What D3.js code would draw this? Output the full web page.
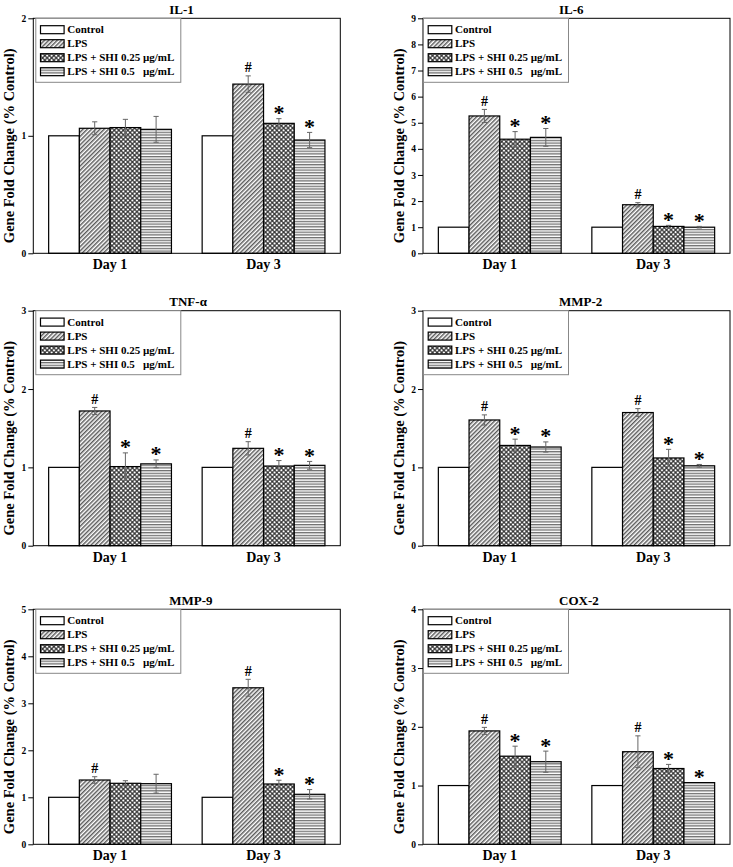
<!DOCTYPE html>
<html>
<head>
<meta charset="utf-8">
<script src="https://cdn.jsdelivr.net/npm/d3@7"></script>
<style>
  html, body { margin: 0; padding: 0; background: #fff; }
  svg { display: block; }
  text { font-family: "Liberation Serif", "Times New Roman", serif; font-weight: bold; fill: #000; }
</style>
</head>
<body>
<svg id="chart" width="733" height="867"></svg>
<script>
// ---------------- DATA ----------------
const categories = ["Day 1", "Day 3"];
const seriesNames = ["Control", "LPS", "LPS + SHI 0.25 µg/mL", "LPS + SHI 0.5   µg/mL"];
const panelTitles = ["IL-1", "IL-6", "TNF-α", "MMP-2", "MMP-9", "COX-2"];
const yMaxes = [2, 9, 3, 3, 5, 4];
const yAxisLabel = "Gene Fold Change (% Control)";

const il1Values = [[1.00, 1.064, 1.07, 1.055], [1.00, 1.44, 1.106, 0.964]];
const il1Errors = [[0, 0.055, 0.07, 0.11], [0, 0.07, 0.04, 0.065]];
const il1Marks  = [["", "", "", ""], ["", "#", "*", "*"]];

const il6Values = [[1.00, 5.26, 4.37, 4.44], [1.00, 1.86, 1.03, 1.00]];
const il6Errors = [[0, 0.25, 0.29, 0.34], [0, 0.08, 0.04, 0.03]];
const il6Marks  = [["", "#", "*", "*"], ["", "#", "*", "*"]];

const tnfValues = [[1.00, 1.72, 1.01, 1.045], [1.00, 1.243, 1.017, 1.026]];
const tnfErrors = [[0, 0.045, 0.175, 0.05], [0, 0.085, 0.07, 0.05]];
const tnfMarks  = [["", "#", "*", "*"], ["", "#", "*", "*"]];

const mmp2Values = [[1.00, 1.605, 1.28, 1.26], [1.00, 1.70, 1.12, 1.02]];
const mmp2Errors = [[0, 0.065, 0.08, 0.065], [0, 0.05, 0.11, 0.017]];
const mmp2Marks  = [["", "#", "*", "*"], ["", "#", "*", "*"]];

const mmp9Values = [[1.00, 1.368, 1.298, 1.29], [1.00, 3.33, 1.283, 1.064]];
const mmp9Errors = [[0, 0.07, 0.055, 0.2], [0, 0.18, 0.08, 0.1]];
const mmp9Marks  = [["", "#", "", ""], ["", "#", "*", "*"]];

const cox2Values = [[1.00, 1.93, 1.50, 1.406], [1.00, 1.576, 1.29, 1.05]];
const cox2Errors = [[0, 0.06, 0.17, 0.18], [0, 0.27, 0.07, 0.0]];
const cox2Marks  = [["", "#", "*", "*"], ["", "#", "*", "*"]];

const panelValues = [il1Values, il6Values, tnfValues, mmp2Values, mmp9Values, cox2Values];
const panelErrors = [il1Errors, il6Errors, tnfErrors, mmp2Errors, mmp9Errors, cox2Errors];
const panelMarks  = [il1Marks, il6Marks, tnfMarks, mmp2Marks, mmp9Marks, cox2Marks];

// ---------------- LAYOUT ----------------
const colLeft = [33.3, 423];
const rowTop = [18.3, 310.7, 609.3];
const frameW = 307;
const frameH = 235;

const svg = d3.select("#chart");
const defs = svg.append("defs");

// patterns
const pLPS = defs.append("pattern").attr("id", "pat-lps")
  .attr("patternUnits", "userSpaceOnUse").attr("width", 3).attr("height", 3)
  .attr("patternTransform", "rotate(45)");
pLPS.append("rect").attr("width", 3).attr("height", 3).attr("fill", "#fff");
pLPS.append("line").attr("x1", 0.8).attr("y1", 0).attr("x2", 0.8).attr("y2", 3)
  .attr("stroke", "#222").attr("stroke-width", 1.1);

const pX = defs.append("pattern").attr("id", "pat-x")
  .attr("patternUnits", "userSpaceOnUse").attr("width", 3.2).attr("height", 3.2)
  .attr("patternTransform", "rotate(45)");
pX.append("rect").attr("width", 3.2).attr("height", 3.2).attr("fill", "#fff");
pX.append("line").attr("x1", 0.8).attr("y1", 0).attr("x2", 0.8).attr("y2", 3.2)
  .attr("stroke", "#222").attr("stroke-width", 1.1);
pX.append("line").attr("x1", 0).attr("y1", 0.8).attr("x2", 3.2).attr("y2", 0.8)
  .attr("stroke", "#222").attr("stroke-width", 1.1);

const pH = defs.append("pattern").attr("id", "pat-h")
  .attr("patternUnits", "userSpaceOnUse").attr("width", 6).attr("height", 2.7);
pH.append("rect").attr("width", 6).attr("height", 2.7).attr("fill", "#fff");
pH.append("line").attr("x1", 0).attr("y1", 0.7).attr("x2", 6).attr("y2", 0.7)
  .attr("stroke", "#444").attr("stroke-width", 1);

const fills = ["#fff", "url(#pat-lps)", "url(#pat-x)", "url(#pat-h)"];

panelTitles.forEach((title, pi) => {
  const fx = colLeft[pi % 2];
  const fy = rowTop[Math.floor(pi / 2)];
  const g = svg.append("g").attr("transform", `translate(${fx},${fy})`);

  const y = d3.scaleLinear().domain([0, yMaxes[pi]]).range([frameH, 0]);
  const x0 = d3.scaleBand().domain(categories).range([0, frameW])
    .paddingInner(0.2).paddingOuter(0.1);
  const x1 = d3.scaleBand().domain(d3.range(seriesNames.length))
    .range([0, x0.bandwidth()]).padding(0);

  const vals = panelValues[pi], errs = panelErrors[pi], marks = panelMarks[pi];

  // bars
  categories.forEach((cat, ci) => {
    const gg = g.append("g").attr("transform", `translate(${x0(cat)},0)`);
    vals[ci].forEach((v, si) => {
      gg.append("rect")
        .attr("x", x1(si)).attr("y", y(v))
        .attr("width", x1.bandwidth()).attr("height", y(0) - y(v))
        .attr("fill", fills[si]).attr("stroke", "#000").attr("stroke-width", 1.2);
    });
    // error bars
    vals[ci].forEach((v, si) => {
      const e = errs[ci][si];
      if (e <= 0) return;
      const cx = x1(si) + x1.bandwidth() / 2;
      gg.append("line").attr("x1", cx).attr("x2", cx)
        .attr("y1", y(v - e)).attr("y2", y(v + e))
        .attr("stroke", "#666").attr("stroke-width", 1);
      [v - e, v + e].forEach(t => {
        gg.append("line").attr("x1", cx - 2.6).attr("x2", cx + 2.6)
          .attr("y1", y(t)).attr("y2", y(t))
          .attr("stroke", "#666").attr("stroke-width", 1);
      });
    });
    // significance marks
    vals[ci].forEach((v, si) => {
      const m = marks[ci][si];
      if (!m) return;
      const cx = x1(si) + x1.bandwidth() / 2;
      const top = y(v + errs[ci][si]);
      if (m === "#") {
        gg.append("text").attr("x", cx).attr("y", top - 3.5)
          .attr("text-anchor", "middle").attr("font-size", 14).text(m);
      } else {
        gg.append("text").attr("x", cx).attr("y", top + 1.5)
          .attr("text-anchor", "middle").attr("font-size", 22).text(m);
      }
    });
  });

  // frame
  g.append("rect").attr("x", 0).attr("y", 0).attr("width", frameW).attr("height", frameH)
    .attr("fill", "none").attr("stroke", "#000").attr("stroke-width", 1);

  // y axis
  const ax = g.append("g").call(
    d3.axisLeft(y).tickValues(d3.range(0, yMaxes[pi] + 1)).tickSize(5).tickPadding(2)
      .tickFormat(d3.format("d")));
  ax.select(".domain").remove();
  ax.selectAll(".tick line").attr("stroke", "#000");
  ax.selectAll(".tick text").attr("font-size", 9.5)
    .attr("font-family", "Liberation Serif, Times New Roman, serif").attr("font-weight", "bold");

  // x labels
  categories.forEach(cat => {
    g.append("text").attr("x", x0(cat) + x0.bandwidth() / 2).attr("y", frameH + 16)
      .attr("text-anchor", "middle").attr("font-size", 14).text(cat);
  });

  // title
  g.append("text").attr("x", 136).attr("y", -4.5).attr("font-size", 13).text(title);

  // y label
  g.append("text").attr("transform", `translate(-19,${frameH / 2 + 10}) rotate(-90)`)
    .attr("text-anchor", "middle").attr("font-size", 14.5).text(yAxisLabel);

  // legend
  const lx = pi % 2 === 0 ? 2.5 : 0.5;
  const lg = g.append("g").attr("transform", `translate(${lx},0)`);
  lg.append("rect").attr("x", 0).attr("y", 0).attr("width", 145).attr("height", 64)
    .attr("fill", "#fff").attr("stroke", "#888").attr("stroke-width", 1);
  seriesNames.forEach((name, si) => {
    const cy = 11.4 + 14 * si;
    lg.append("rect").attr("x", 4.7).attr("y", cy - 4).attr("width", 23.6).attr("height", 8)
      .attr("fill", fills[si]).attr("stroke", "#000").attr("stroke-width", 1.2);
    lg.append("text").attr("x", 31.5).attr("y", cy + 3.8).attr("font-size", 11)
      .style("white-space", "pre").text(name);
  });
});
</script>
</body>
</html>
